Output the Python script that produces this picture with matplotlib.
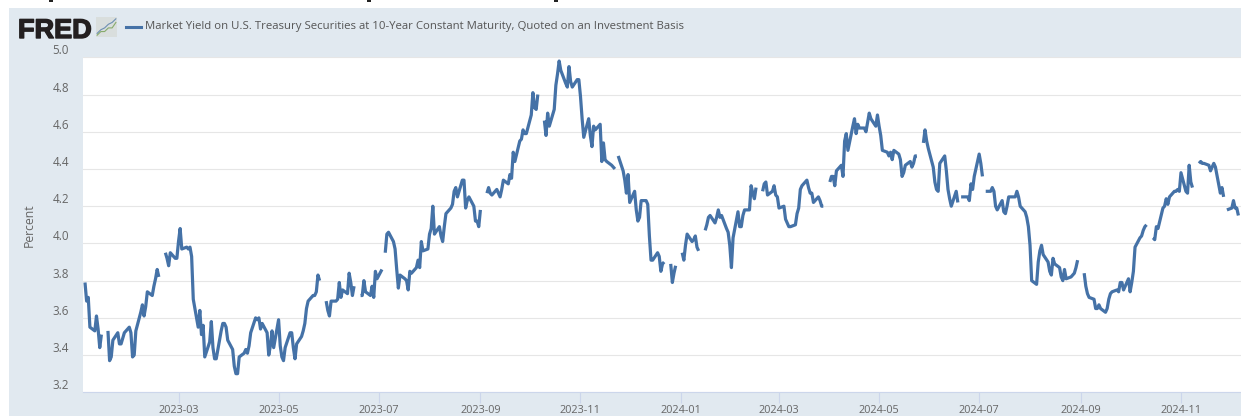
"""
FRED chart: 10-year Treasury constant maturity yield, daily, 2023-2024.
"""

import matplotlib
matplotlib.use("Agg")
import matplotlib.patches as patches
import matplotlib.patheffects as path_effects
import matplotlib.pyplot as plt
import numpy as np
import pandas as pd

nan = np.nan

# one row per week, Monday to Friday; nan = market holiday (line breaks there)
yields_2023 = [
    nan, 3.79, 3.69, 3.71, 3.55,
    3.53, 3.61, 3.54, 3.44, 3.51,
    nan, 3.53, 3.37, 3.39, 3.48,
    3.52, 3.46, 3.46, 3.49, 3.52,
    3.55, 3.52, 3.39, 3.40, 3.53,
    3.63, 3.67, 3.61, 3.66, 3.74,
    3.72, 3.77, 3.81, 3.86, 3.82,
    nan, 3.95, 3.92, 3.88, 3.95,
    3.92, 3.92, 4.01, 4.08, 3.97,
    3.98, 3.97, 3.98, 3.93, 3.70,
    3.55, 3.64, 3.51, 3.56, 3.39,
    3.47, 3.58, 3.44, 3.38, 3.38,
    3.53, 3.57, 3.57, 3.55, 3.48,
    3.43, 3.34, 3.30, 3.30, 3.39,
    3.41, 3.43, 3.41, 3.45, 3.52,
    3.60, 3.59, 3.60, 3.54, 3.57,
    3.52, 3.40, 3.45, 3.53, 3.44,
    3.59, 3.45, 3.39, 3.37, 3.44,
    3.52, 3.52, 3.44, 3.38, 3.46,
    3.50, 3.53, 3.57, 3.65, 3.69,
    3.72, 3.72, 3.74, 3.83, 3.80,
    nan, 3.69, 3.64, 3.61, 3.69,
    3.69, 3.70, 3.79, 3.71, 3.75,
    3.73, 3.84, 3.79, 3.72, 3.77,
    nan, 3.72, 3.72, 3.80, 3.74,
    3.72, 3.77, 3.71, 3.85, 3.81,
    3.86, nan, 3.95, 4.05, 4.06,
    4.01, 3.97, 3.86, 3.76, 3.83,
    3.81, 3.80, 3.75, 3.85, 3.84,
    3.87, 3.91, 3.87, 4.01, 3.96,
    3.97, 4.05, 4.08, 4.20, 4.05,
    4.09, 4.04, 4.01, 4.09, 4.16,
    4.19, 4.21, 4.28, 4.30, 4.25,
    4.34, 4.34, 4.19, 4.23, 4.25,
    4.20, 4.12, 4.12, 4.09, 4.18,
    nan, 4.27, 4.30, 4.27, 4.26,
    4.29, 4.27, 4.25, 4.29, 4.34,
    4.32, 4.37, 4.35, 4.49, 4.44,
    4.55, 4.56, 4.61, 4.59, 4.59,
    4.69, 4.81, 4.73, 4.72, 4.80,
    nan, 4.66, 4.58, 4.70, 4.63,
    4.72, 4.85, 4.91, 4.98, 4.93,
    4.86, 4.84, 4.95, 4.87, 4.84,
    4.88, 4.88, 4.79, 4.67, 4.57,
    4.67, 4.58, 4.52, 4.63, 4.61,
    4.64, 4.44, 4.54, 4.45, 4.44,
    4.42, 4.41, 4.40, nan, 4.47,
    4.39, 4.34, 4.27, 4.37, 4.22,
    4.28, 4.18, 4.12, 4.14, 4.23,
    4.23, 4.21, 4.04, 3.91, 3.91,
    3.95, 3.93, 3.85, 3.89, 3.90,
    nan, 3.89, 3.79, 3.84, 3.88,
]
yields_2024 = [
    nan, 3.95, 3.91, 3.99, 4.05,
    4.01, 4.02, 4.04, 3.98, 3.96,
    nan, 4.07, 4.10, 4.14, 4.15,
    4.11, 4.14, 4.18, 4.14, 4.15,
    4.08, 4.06, 3.99, 3.87, 4.03,
    4.17, 4.09, 4.09, 4.15, 4.18,
    4.18, 4.31, 4.27, 4.24, 4.30,
    nan, 4.28, 4.32, 4.33, 4.26,
    4.28, 4.31, 4.26, 4.25, 4.19,
    4.20, 4.13, 4.11, 4.09, 4.09,
    4.10, 4.16, 4.19, 4.29, 4.31,
    4.34, 4.30, 4.27, 4.27, 4.22,
    4.25, 4.23, 4.20, 4.20, nan,
    4.33, 4.36, 4.36, 4.31, 4.39,
    4.42, 4.36, 4.55, 4.59, 4.50,
    4.63, 4.67, 4.59, 4.64, 4.62,
    4.62, 4.60, 4.65, 4.70, 4.67,
    4.63, 4.69, 4.63, 4.58, 4.50,
    4.49, 4.47, 4.49, 4.45, 4.50,
    4.48, 4.45, 4.36, 4.38, 4.42,
    4.44, 4.41, 4.43, 4.47, 4.47,
    nan, 4.54, 4.61, 4.55, 4.51,
    4.41, 4.33, 4.29, 4.28, 4.43,
    4.47, 4.39, 4.29, 4.24, 4.20,
    4.28, 4.22, nan, 4.25, 4.25,
    4.25, 4.23, 4.32, 4.29, 4.36,
    4.48, 4.43, 4.36, nan, 4.28,
    4.28, 4.30, 4.28, 4.20, 4.18,
    4.23, 4.17, 4.16, 4.20, 4.25,
    4.25, 4.25, 4.28, 4.25, 4.20,
    4.17, 4.14, 4.09, 3.99, 3.80,
    3.78, 3.90, 3.96, 3.99, 3.94,
    3.90, 3.85, 3.83, 3.92, 3.89,
    3.87, 3.82, 3.80, 3.86, 3.81,
    3.82, 3.83, 3.84, 3.87, 3.91,
    nan, 3.84, 3.77, 3.73, 3.71,
    3.70, 3.65, 3.65, 3.67, 3.65,
    3.63, 3.65, 3.70, 3.73, 3.74,
    3.75, 3.74, 3.79, 3.79, 3.75,
    3.81, 3.74, 3.79, 3.85, 3.98,
    4.03, 4.04, 4.07, 4.09, 4.10,
    nan, 4.03, 4.02, 4.09, 4.08,
    4.19, 4.20, 4.24, 4.21, 4.25,
    4.28, 4.28, 4.29, 4.28, 4.38,
    4.28, 4.27, 4.42, 4.33, 4.30,
    nan, 4.43, 4.44, 4.43, 4.43,
    4.42, 4.39, 4.41, 4.43, 4.41,
    4.27, 4.30, 4.25, nan, 4.18,
    4.19, 4.23, 4.19, 4.19, 4.15,
]
dates = pd.bdate_range("2023-01-02", periods=len(yields_2023) + len(yields_2024))

y_ticks = [3.2, 3.4, 3.6, 3.8, 4.0, 4.2, 4.4, 4.6, 4.8, 5.0]
x_tick_labels = [
    "2023-03", "2023-05", "2023-07", "2023-09", "2023-11",
    "2024-01", "2024-03", "2024-05", "2024-07", "2024-09", "2024-11",
]
legend_label = (
    "Market Yield on U.S. Treasury Securities at 10-Year Constant Maturity, "
    "Quoted on an Investment Basis"
)

# FRED logo sparkline, in icon coordinates
logo_blue = [1, 3, 4, 6, 7, 9]
logo_green = [0, 2, 2, 4, 4, 7]

W, H = 1241, 416
PANEL = "#e1e9f0"
LINE = "#4572a7"
TEXT = "#666666"

plt.rcParams["font.family"] = ["Open Sans", "DejaVu Sans"]

fig = plt.figure(figsize=(W / 100, H / 100), dpi=100, facecolor="white")


def px(x, y, w, h):
    # pixel box (top-left origin) -> figure fraction box
    return [x / W, 1 - (y + h) / H, w / W, h / H]


# Panel behind everything
fig.patches.append(patches.Rectangle(
    (9 / W, 0), 1 - 9 / W, 1 - 8 / H, transform=fig.transFigure,
    facecolor=PANEL, edgecolor="none", zorder=-5,
))

# Bottoms of the title's descenders, the crop cuts the rest off
for tail_x in (49, 367, 554):
    fig.patches.append(patches.Rectangle(
        (tail_x / W, 1 - 2 / H), 4 / W, 2 / H, transform=fig.transFigure,
        facecolor="#222222", edgecolor="none",
    ))

ax = fig.add_axes(px(83, 57.3, 1158, 335))
ax.set_facecolor("white")
ax.plot(dates, yields_2023 + yields_2024, color=LINE, lw=2.3,
        solid_joinstyle="round", solid_capstyle="butt", zorder=3)

ax.set_ylim(3.2, 5.0)
ax.set_xlim(pd.Timestamp("2023-01-01 19:00"), pd.Timestamp("2024-12-07 14:00"))

ax.set_yticks(y_ticks)
ax.set_yticklabels([f"{v:.1f}" for v in y_ticks], va="bottom")
ax.tick_params(axis="y", length=0, pad=10, labelsize=8.4, labelcolor=TEXT)

ax.set_xticks(pd.to_datetime([s + "-01" for s in x_tick_labels]))
ax.set_xticklabels(x_tick_labels)
ax.tick_params(axis="x", length=8, width=0.8, color="#ccd6eb", pad=1.5,
               labelsize=7.8, labelcolor=TEXT)

ax.grid(axis="y", color="#e6e6e6", lw=0.8)
ax.set_axisbelow(True)
for side in ("top", "right", "left"):
    ax.spines[side].set_visible(False)
ax.spines["bottom"].set_color("#ccd6eb")
ax.spines["bottom"].set_linewidth(0.8)

fig.text(29 / W, 1 - 225 / H, "Percent", rotation=90, ha="center", va="center",
         fontsize=8.8, color=TEXT)

# Legend row
logo = fig.text(18 / W, 1 - 38 / H, "FRED", family=["Liberation Sans"], weight="bold",
                fontsize=19.5, color="#231f20", ha="left", va="baseline")
logo.set_path_effects([path_effects.withStroke(linewidth=1.0, foreground="#231f20")])
fig.add_artist(plt.Line2D([125.5 / W, 140.5 / W], [1 - 26.5 / H] * 2, color=LINE, lw=2.2))
fig.text(145 / W, 1 - 27 / H, legend_label, fontsize=8.2, color="#555555",
         ha="left", va="center")

# Small logo icon
icon = fig.add_axes(px(96, 17, 21, 20))
icon.set_facecolor("#d9dedd")
icon.plot(logo_blue, color="#6d8fb3", lw=0.8)
icon.plot(logo_green, color="#87ab6c", lw=0.8)
icon.set_xlim(-0.3, 5.3)
icon.set_ylim(-1, 10)
icon.set_xticks([])
icon.set_yticks([])
for s in icon.spines.values():
    s.set_visible(False)

fig.savefig("out.png", dpi=100, facecolor="white")
